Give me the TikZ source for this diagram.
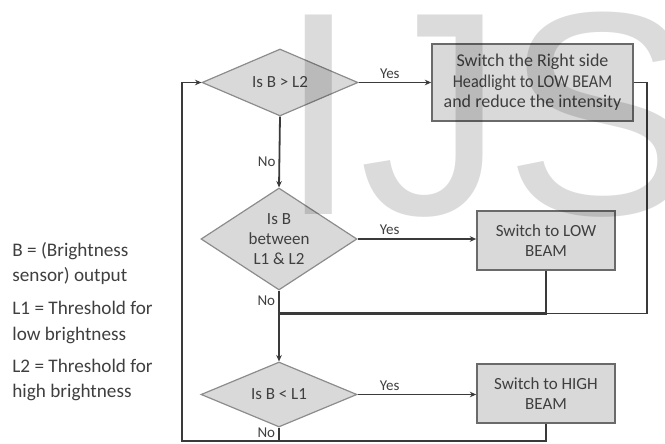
\documentclass[tikz,border=0pt]{standalone}
\usepackage{fontspec}
\setmainfont{Carlito}
\newfontfamily\markfont{Liberation Sans}
\usetikzlibrary{shapes.geometric,arrows.meta}
\definecolor{boxfill}{HTML}{D9D9D9}
\definecolor{linegray}{HTML}{3A3A3A}
\definecolor{diaedge}{HTML}{8C8C8C}
\definecolor{boxedge}{HTML}{6A6A6A}
\definecolor{txtgray}{HTML}{3F3F3F}
\begin{document}
\begin{tikzpicture}[x=0.5pt,y=-0.5pt,
	decision/.style={diamond, aspect=1.5, inner sep=0pt, fill=boxfill, draw=diaedge, line width=0.6pt,
		text=txtgray, align=center, font=\fontsize{8.5}{10}\selectfont, minimum width=78pt},
	action/.style={rectangle, inner sep=0pt, fill=boxfill, draw=boxedge, line width=0.8pt,
		text=txtgray, align=center, font=\fontsize{8.5}{10.3}\selectfont},
	flow/.style={draw=linegray, line width=0.9pt},
	arr/.style={flow, -{Stealth[length=3.2pt,width=2.8pt]}},
	answer/.style={text=txtgray, font=\fontsize{7.5}{9}\selectfont, inner sep=1.5pt},
	legend/.style={anchor=west, align=left, inner sep=0pt, text=txtgray, font=\fontsize{9.6}{12.9}\selectfont}]
	\useasboundingbox (0,0) rectangle (665,444);
	
	% legend
	\node[legend] (leg1) at (12,263.5) {B = (Brightness\\sensor) output};
	\node[legend] (leg2) at (12,322.5) {L1 = Threshold for\\low brightness};
	\node[legend] (leg3) at (12,380) {L2 = Threshold for\\high brightness};
	
	% decisions
	\node[decision, minimum height=33.5pt] (isHigh) at (280,82.5) {Is B > L2};
	\node[decision, minimum height=51pt] (isMid) at (279,239) {Is B\\between\\L1 \& L2};
	\node[decision, minimum height=32.5pt] (isLow) at (279,394.5) {Is B < L1};
	
	% actions
	\node[action, font=\fontsize{9}{10.3}\selectfont, minimum width=100.5pt, minimum height=38.5pt] (dimRight) at (532.5,82.5)
		{Switch the Right side\\\scalebox{0.9}[1]{Headlight to LOW BEAM}\\and reduce\ the intensity};
	\node[action, minimum width=69pt, minimum height=29.5pt] (lowBeam) at (546,240.5) {Switch to LOW\\BEAM};
	\node[action, minimum width=69pt, minimum height=29.5pt] (highBeam) at (546,393.5) {Switch to HIGH\\BEAM};
	
	% yes branches
	\draw[arr] (isHigh.east) -- node[answer, above, pos=0.43] {Yes} (dimRight.west);
	\draw[arr] (isMid.east) -- node[answer, above, pos=0.27] {Yes} (lowBeam.west |- isMid.east);
	\draw[arr] (isLow.east) -- node[answer, above, pos=0.27] {Yes} (highBeam.west |- isLow.east);
	
	% no branches
	\draw[arr] (isHigh.south) -- node[answer, left, pos=0.64] {No} (isMid.north);
	\draw[arr] (isMid.south) -- node[answer, left, pos=0.14] {No} (isLow.north);
	
	% merging back
	\coordinate (merge) at (280,313.5);
	\coordinate (rightTurn) at (647,313.5);
	\coordinate (loopCorner) at (182,441);
	\draw[flow] (dimRight.east) -| (rightTurn) -- (merge);
	\draw[flow, line width=1.3pt] (lowBeam.south) |- (merge);
	\draw[flow] (isLow.south) -- node[answer, left, pos=0.35] {No} (isLow.south |- loopCorner);
	\draw[arr] (highBeam.south) |- (loopCorner) |- (isHigh.west);
	
	% watermark
	\begin{scope}
		\clip (0,0) rectangle (665,444);
		\node[anchor=base west, inner sep=0pt, text=black, text opacity=0.14, font=\markfont\fontsize{145}{145}\selectfont] (mark) at (278,215) {IJS};
	\end{scope}
\end{tikzpicture}
\end{document}
